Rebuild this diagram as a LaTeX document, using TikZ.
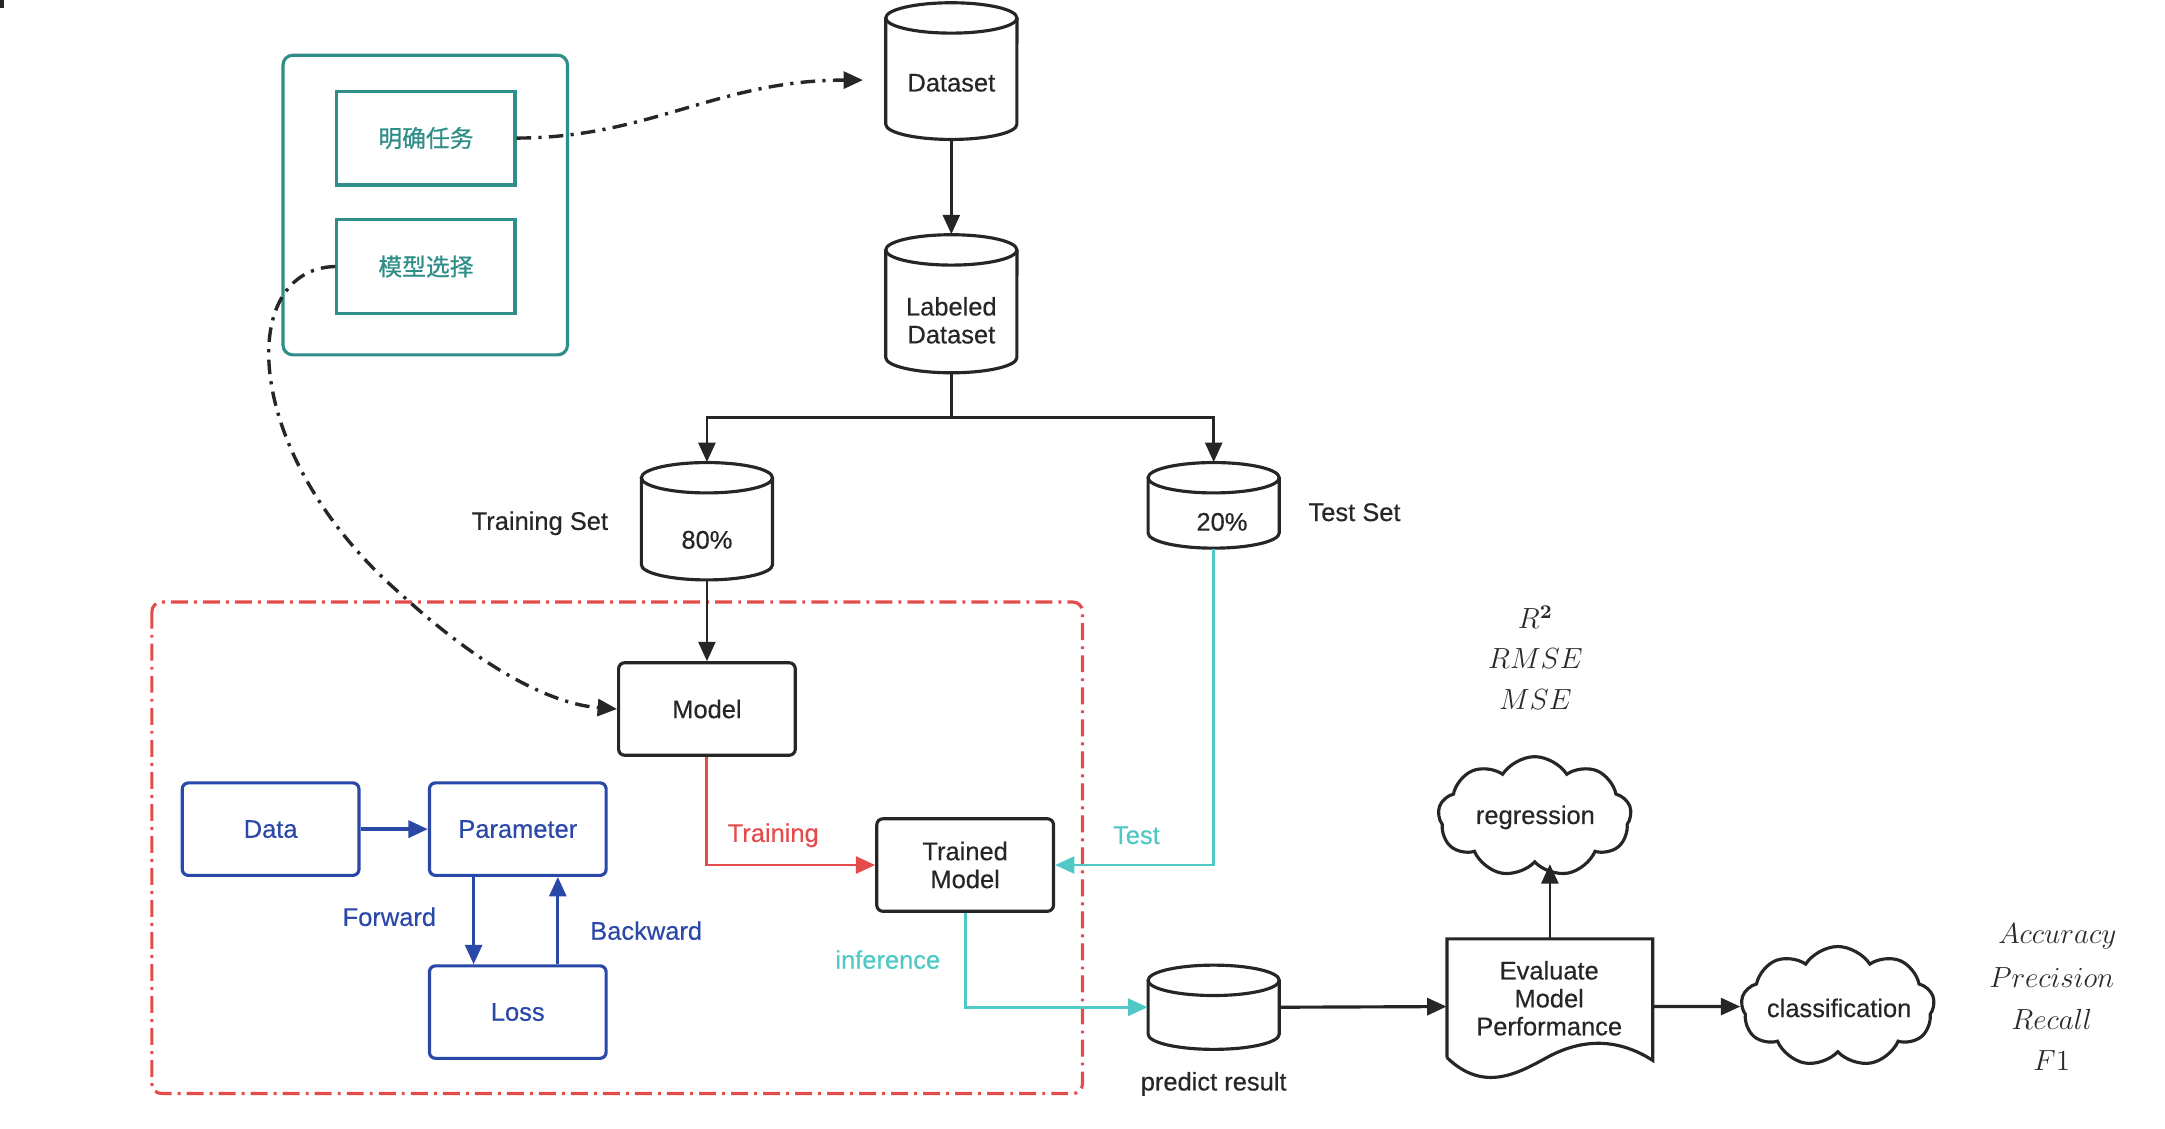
\documentclass[tikz,border=0pt]{standalone}
\usepackage[no-math]{fontspec}
\setmainfont{Liberation Sans}[FakeBold=0.4]
\newfontfamily\cjk{Noto Sans CJK SC}[FakeBold=0.8]
\usetikzlibrary{arrows.meta,shapes.symbols,calc}
\definecolor{ink}{RGB}{38,38,38}
\definecolor{tealc}{RGB}{47,142,136}
\definecolor{redc}{RGB}{228,76,76}
\definecolor{cyanc}{RGB}{80,200,198}
\definecolor{bluec}{RGB}{42,72,168}
\definecolor{mathc}{RGB}{42,42,42}
\newcommand{\dbcyl}[4]{%
  \node[inner sep=0, minimum width=1.9cm, minimum height={(#4-#3)*0.02cm}] (#1) at (#2,{(#3+#4)/2}) {};
  \draw[cylline] (#2,#3+11) ellipse [x radius=0.95cm, y radius=0.22cm];
  \draw[cylline] (#2-47.5,#3+11) -- (#2-47.5,#4-11) arc[start angle=180, end angle=360, x radius=0.95cm, y radius=0.22cm] -- (#2+47.5,#3+11);
}
\begin{document}
\begin{tikzpicture}[x=0.02cm,y=-0.02cm,
  txt/.style={inner sep=0, font=\fontsize{10.5}{11.5}\selectfont, align=center, text=ink},
  box/.style={draw=ink, line width=1.3pt, rounded corners=2.5pt, minimum width=2.56cm, minimum height=1.34cm, inner sep=0, font=\fontsize{10.5}{11.5}\selectfont, align=center, text=ink},
  bbox/.style={box, draw=bluec, text=bluec},
  tbox/.style={draw=tealc, line width=1.3pt, minimum width=2.58cm, minimum height=1.36cm, inner sep=0, text=tealc, font=\cjk\fontsize{9.8}{11}\selectfont},
  cylline/.style={draw=ink, line width=1.3pt},
  tip/.style={-{Triangle[length=8pt,width=7pt]}},
  conn/.style={draw=ink, line width=1.1pt, tip},
  dashdot/.style={line width=1.4pt, dash pattern=on 6pt off 3pt on 1.3pt off 3pt},
  cloudn/.style={cloud, draw=ink, line width=1.3pt, cloud puffs=9, cloud puff arc=115, aspect=1.6, inner sep=0},
  mathl/.style={inner sep=0, text=mathc, font=\large}
]
\useasboundingbox (0,0) rectangle (1568,817);
\fill[ink] (0,0) rectangle (3,6);

% teal group
\draw[tealc, line width=1.3pt, rounded corners=4pt] (205,40) rectangle (411,257);
\node[tbox] (task) at (308.5,100) {明确任务};
\node[tbox] (sel) at (308.5,193) {模型选择};

% red dash-dot frame
\draw[redc, line width=1.3pt, rounded corners=4pt, dash pattern=on 7pt off 2.5pt on 1.2pt off 2.5pt] (110,436) rectangle (784,792);

% cylinders
\dbcyl{ds}{689}{2}{101}
\node[txt] (ds-t) at (689,60) {Dataset};
\dbcyl{lab}{689}{170}{270}
\node[txt] (lab-t) at (689,232) {Labeled\\Dataset};
\dbcyl{train}{512}{335}{420}
\node[txt] (train-t) at (512,391) {80\%};
\dbcyl{test}{879}{335}{397}
\node[txt] (test-t) at (885,378) {20\%};
\dbcyl{pr}{879}{699}{760}

\node[txt] (train-l) at (391,379) {Training Set};
\node[txt] (test-l) at (981,371) {Test Set};
\node[txt] (pr-l) at (879,785) {predict result};

% boxes
\node[box] (model) at (512,513.5) {Model};
\node[box] (tm) at (699,626.5) {Trained\\Model};
\node[bbox] (data) at (196,600.5) {Data};
\node[bbox] (param) at (375,600.5) {Parameter};
\node[bbox] (loss) at (375,733) {Loss};

% evaluate document
\node[inner sep=0, minimum width=2.98cm, minimum height=1.96cm] (ev) at (1122.5,729) {};
\draw[cylline] (1048,766) -- (1048,680) -- (1197,680) -- (1197,768) .. controls (1172,752) and (1147,752) .. (1122,765) .. controls (1100,777) and (1075,792) .. (1048,766);
\node[txt] (ev-t) at (1122,723) {Evaluate\\Model\\Performance};

% clouds
\node[cloudn, minimum width=2.8cm, minimum height=1.74cm] (reg) at (1111.5,591.5) {};
\node[txt] (reg-t) at (1112,592) {regression};
\node[cloudn, minimum width=2.8cm, minimum height=1.74cm] (cls) at (1331,729) {};
\node[txt] (cls-t) at (1332,730) {classification};

% connectors
\coordinate (dsin) at (625,58);
\draw[ink, dashdot, tip] (task.east) .. controls (470,100) and (520,58) .. (dsin);
\draw[ink, dashdot, tip] (sel.west) .. controls (170,195) and (175,330) .. (290,430) .. controls (350,485) and (400,510) .. (model.west);

\draw[conn] (ds.south) -- (lab.north);
\draw[conn] (lab.south) -- ++(0,32) -| (train.north);
\draw[conn] (lab.south) -- ++(0,32) -| (test.north);
\draw[conn] (train.south) -- (model.north);

\draw[redc, line width=1.2pt, tip] (model.south) |- (tm.west);
\node[txt, text=redc] (train-lab) at (560,605) {Training};
\draw[cyanc, line width=1.2pt, tip] (test.south) |- (tm.east);
\node[txt, text=cyanc] (test-lab) at (823,605) {Test};
\draw[cyanc, line width=1.2pt, tip] (tm.south) |- (pr.west);
\node[txt, text=cyanc] (inf-lab) at (643,695) {inference};

\draw[bluec, line width=1.4pt, tip] (data.east) -- (param.west);
\draw[bluec, line width=1.2pt, tip] ([xshift=-0.64cm]param.south) -- ([xshift=-0.64cm]loss.north);
\draw[bluec, line width=1.2pt, tip] ([xshift=0.58cm]loss.north) -- ([xshift=0.58cm]param.south);
\node[txt, text=bluec] (fwd) at (282,664) {Forward};
\node[txt, text=bluec] (bwd) at (468,674) {Backward};

\draw[conn, line width=1.3pt] (pr.east) -- (ev.west);
\draw[conn] (ev.north) -- (ev.north |- reg.south);
\draw[conn, line width=1.3pt] (ev.east) -- (cls.west);

% metrics
\node[mathl] (m1) at (1112,447) {$R^{\mathbf{2}}$};
\node[mathl] (m2) at (1112,477) {$RMSE$};
\node[mathl] (m3) at (1112,507) {$MSE$};
\node[mathl] (c1) at (1490,678) {$Accuracy$};
\node[mathl] (c2) at (1486,708) {$Precision$};
\node[mathl] (c3) at (1486,738) {$Recall$};
\node[mathl] (c4) at (1486,768) {$F1$};
\end{tikzpicture}
\end{document}
